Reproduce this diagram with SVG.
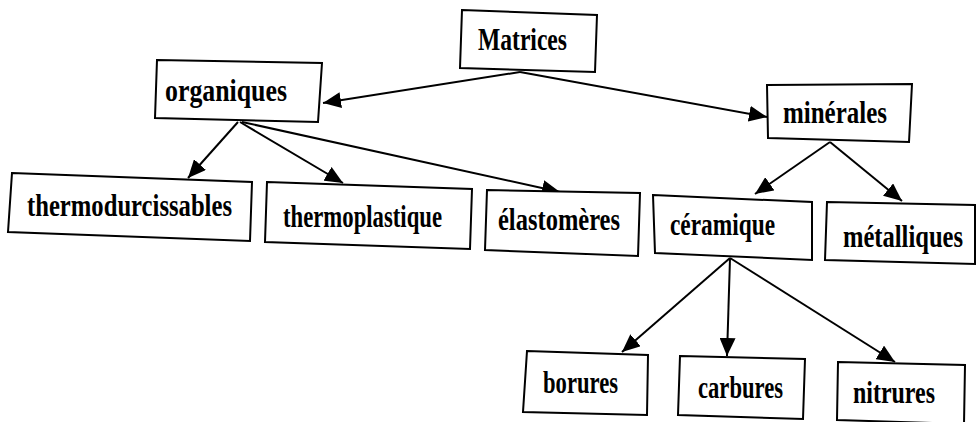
<svg xmlns="http://www.w3.org/2000/svg" width="979" height="422" viewBox="0 0 979 422">
<style>
.box{fill:#fff;stroke:#000;stroke-width:2}
.lbl{font-family:"Liberation Serif","Times New Roman",serif;font-size:32px;font-weight:bold;fill:#000}
.edge{fill:none;stroke:#000;stroke-width:2}
</style>
<defs>
<marker id="ah" markerUnits="userSpaceOnUse" markerWidth="18" markerHeight="16" viewBox="0 0 18 16" refX="18" refY="8" orient="auto">
<path d="M0,0 L18,8 L0,16 Z" fill="#000"/>
</marker>
</defs>
<rect width="979" height="422" fill="#fff"/>
<g id="connectors">
<line class="edge" x1="520" y1="72" x2="323" y2="103" marker-end="url(#ah)"/>
<line class="edge" x1="520" y1="72" x2="767" y2="117" marker-end="url(#ah)"/>
<line class="edge" x1="238" y1="122" x2="188" y2="178" marker-end="url(#ah)"/>
<line class="edge" x1="240" y1="122" x2="343" y2="183" marker-end="url(#ah)"/>
<line class="edge" x1="242" y1="122" x2="560" y2="192" marker-end="url(#ah)"/>
<line class="edge" x1="830" y1="142" x2="755" y2="194" marker-end="url(#ah)"/>
<line class="edge" x1="830" y1="142" x2="902" y2="201" marker-end="url(#ah)"/>
<line class="edge" x1="730" y1="258" x2="622" y2="352" marker-end="url(#ah)"/>
<line class="edge" x1="730" y1="258" x2="727" y2="356" marker-end="url(#ah)"/>
<line class="edge" x1="730" y1="258" x2="895" y2="362" marker-end="url(#ah)"/>
</g>
<g id="matrices">
<polygon class="box" points="462,10 597,15 595,72 460,68"/>
<text class="lbl" x="478" y="50" textLength="89" lengthAdjust="spacingAndGlyphs">Matrices</text>
</g>
<g id="organiques">
<polygon class="box" points="157,60 322,63 318,122 155,118"/>
<text class="lbl" x="165" y="101" textLength="122" lengthAdjust="spacingAndGlyphs">organiques</text>
</g>
<g id="minerales">
<polygon class="box" points="767,85 912,84 909,142 768,138"/>
<text class="lbl" x="783" y="123" textLength="104" lengthAdjust="spacingAndGlyphs">minérales</text>
</g>
<g id="thermodurcissables">
<polygon class="box" points="12,173 252,182 250,241 8,232"/>
<text class="lbl" x="27" y="216" textLength="205" lengthAdjust="spacingAndGlyphs">thermodurcissables</text>
</g>
<g id="thermoplastique">
<polygon class="box" points="267,182 472,189 470,249 265,242"/>
<text class="lbl" x="283" y="227" textLength="159" lengthAdjust="spacingAndGlyphs">thermoplastique</text>
</g>
<g id="elastomeres">
<polygon class="box" points="487,190 640,193 638,256 485,250"/>
<text class="lbl" x="498" y="230" textLength="122" lengthAdjust="spacingAndGlyphs">élastomères</text>
</g>
<g id="ceramique">
<polygon class="box" points="653,195 812,202 812,260 655,253"/>
<text class="lbl" x="670" y="235" textLength="105" lengthAdjust="spacingAndGlyphs">céramique</text>
</g>
<g id="metalliques">
<polygon class="box" points="827,202 975,205 975,264 825,260"/>
<text class="lbl" x="0" y="0" transform="translate(843,247) scale(1,1.28)" style="font-size:25px" textLength="120" lengthAdjust="spacingAndGlyphs">métalliques</text>
</g>
<g id="borures">
<polygon class="box" points="527,351 648,355 647,415 523,412"/>
<text class="lbl" x="543" y="393" textLength="75" lengthAdjust="spacingAndGlyphs">borures</text>
</g>
<g id="carbures">
<polygon class="box" points="680,356 805,359 803,419 678,415"/>
<text class="lbl" x="698" y="398" textLength="85" lengthAdjust="spacingAndGlyphs">carbures</text>
</g>
<g id="nitrures">
<polygon class="box" points="838,362 965,365 964,424 837,420"/>
<text class="lbl" x="853" y="403" textLength="82" lengthAdjust="spacingAndGlyphs">nitrures</text>
</g>
</svg>
